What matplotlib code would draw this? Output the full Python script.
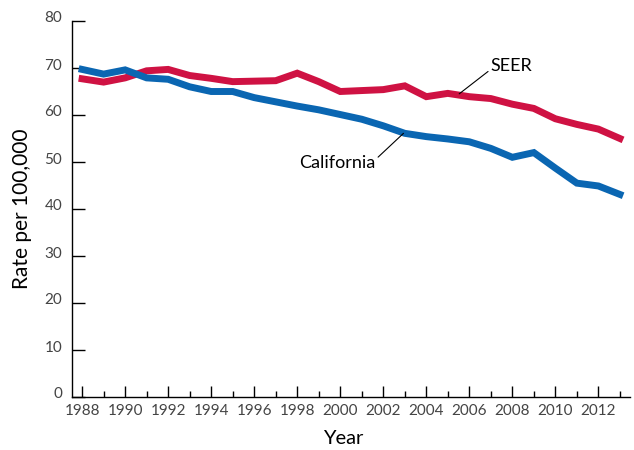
import matplotlib
matplotlib.use("Agg")
import matplotlib.pyplot as plt
from matplotlib.transforms import ScaledTranslation

years = list(range(1988, 2014))
california = [69.7, 68.7, 69.6, 67.9, 67.6, 66.0, 65.0, 65.0, 63.7, 62.8, 61.9, 61.1, 60.1,
              59.1, 57.7, 56.1, 55.4, 54.9, 54.3, 52.9, 51.0, 52.0, 48.7, 45.5, 44.9, 43.1]
seer = [67.7, 67.0, 67.9, 69.4, 69.7, 68.4, 67.8, 67.1, 67.2, 67.3, 68.9, 67.1, 65.0,
        65.2, 65.4, 66.2, 63.9, 64.6, 63.9, 63.5, 62.3, 61.4, 59.2, 58.0, 57.0, 55.0]
yticks = [0, 10, 20, 30, 40, 50, 60, 70, 80]
xmajor = list(range(1988, 2013, 2))
xminor = list(range(1989, 2014, 2))

plt.rcParams['font.family'] = ['Lato', 'DejaVu Sans']

fig = plt.figure(figsize=(6.34, 4.5), dpi=100)
ax = fig.add_axes([72/634, 1-397/450, (630-72)/634, (397-21)/450])

blue = '#0a66b2'
red = '#cf1243'
ax.plot(years, seer, color=red, lw=5.0, solid_joinstyle='miter', zorder=3)
ax.plot(years, california, color=blue, lw=5.0, solid_joinstyle='miter', zorder=3)

ax.set_xlim(1987.53, 2013.47)
ax.set_ylim(0, 80)
for s in ['top', 'right']:
    ax.spines[s].set_visible(False)
for s in ['left', 'bottom']:
    ax.spines[s].set_linewidth(1.0)
    ax.spines[s].set_color('black')

ax.set_yticks(yticks)
ax.set_xticks(xmajor)
ax.set_xticks(xminor, minor=True)
ax.tick_params(axis='y', direction='in', length=9.5, width=1.0, pad=7,
               labelsize=11, labelcolor='#444444')
ax.tick_params(axis='x', which='major', direction='in', length=8, width=1.0, pad=5,
               labelsize=11, labelcolor='#444444')
ax.tick_params(axis='x', which='minor', direction='in', length=4, width=1.0)
off = ScaledTranslation(0, 4/100, fig.dpi_scale_trans)
for lab in ax.get_yticklabels():
    lab.set_transform(lab.get_transform() + off)

ax.set_xlabel('Year', fontsize=14.5, labelpad=9)
ax.xaxis.label.set_x(0.486)
ax.set_ylabel('Rate per 100,000', fontsize=15, labelpad=9)

ax.annotate('SEER', xy=(2005.53, 64.5), xytext=(2007.0, 70.4),
            fontsize=13, ha='left', va='center',
            arrowprops=dict(arrowstyle='-', color='black', lw=0.8,
                            shrinkA=0, shrinkB=0, relpos=(0, 0.3)))
ax.annotate('California', xy=(2002.94, 56.1), xytext=(2001.63, 49.8),
            fontsize=13, ha='right', va='center',
            arrowprops=dict(arrowstyle='-', color='black', lw=0.8,
                            shrinkA=0, shrinkB=0, relpos=(1, 0.7)))

fig.savefig('out.png', dpi=100)
